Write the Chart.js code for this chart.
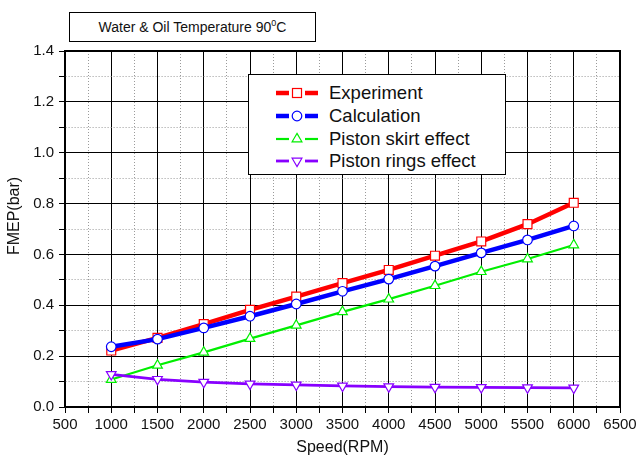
<!DOCTYPE html>
<html>
<head>
<meta charset="utf-8">
<script src="https://cdn.jsdelivr.net/npm/chart.js@4/dist/chart.umd.min.js"></script>
<style>
  html, body { margin: 0; padding: 0; background: #fff; }
  #wrap { position: relative; width: 640px; height: 455px; font-family: "Liberation Sans", Arial, sans-serif; }
  #c { position: absolute; left: 0; top: 0; }
  #titlebox { position: absolute; left: 69px; top: 12px; width: 245px; height: 28px; border: 1px solid #000; background: #fff;
    font-size: 14px; line-height: 28px; text-align: center; color: #111; }
  #titlebox sup { font-size: 9px; vertical-align: 6px; line-height: 0; }
  #ytitle { position: absolute; left: -36.5px; top: 207.5px; width: 100px; height: 16px; line-height: 16px; font-size: 16px;
    text-align: center; color: #111; transform: rotate(-90deg); white-space: nowrap; }
  #legend { position: absolute; left: 248px; top: 74px; width: 256px; height: 99px; border: 1px solid #000; background: #fff; }
  .row { position: absolute; left: 0; height: 22px; width: 256px; }
  .row svg { position: absolute; left: 26px; top: 0; }
  .row span { position: absolute; left: 80px; top: 1px; font-size: 18.5px; line-height: 20px; color: #111; white-space: nowrap; }
</style>
</head>
<body>
<div id="wrap">
  <canvas id="c" width="640" height="455"></canvas>
  <div id="titlebox">Water &amp; Oil Temperature 90<sup>0</sup>C</div>
  <div id="ytitle"></div>
  <div id="legend"></div>
</div>
<script>
// ---- data ----
const speeds = [1000, 1500, 2000, 2500, 3000, 3500, 4000, 4500, 5000, 5500, 6000];
const experiment = [0.222, 0.272, 0.326, 0.382, 0.434, 0.487, 0.539, 0.595, 0.651, 0.719, 0.803];
const calculation = [0.237, 0.267, 0.311, 0.357, 0.405, 0.455, 0.503, 0.554, 0.606, 0.657, 0.712];
const skirtEffect = [0.108, 0.164, 0.215, 0.269, 0.321, 0.374, 0.424, 0.477, 0.532, 0.582, 0.637];
const ringsEffect = [0.128, 0.109, 0.098, 0.091, 0.087, 0.083, 0.080, 0.078, 0.077, 0.076, 0.075];
const seriesNames = ["Experiment", "Calculation", "Piston skirt effect", "Piston rings effect"];
const xTitle = "Speed(RPM)";
const yTitle = "FMEP(bar)";

const colors = ["#ff0000", "#0000ff", "#00ee00", "#8800ff"];
const lineWidths = [4.5, 4.5, 2.2, 2.8];
const pointStyles = ["rect", "circle", "triangle", "triangle"];
const pointRadii = [6.3, 4.8, 5.6, 5.6];
const rotations = [0, 0, 0, 180];
const seriesValues = [experiment, calculation, skirtEffect, ringsEffect];

const toXY = vals => speeds.map((s, i) => ({ x: s, y: vals[i] }));

const datasets = seriesValues.map((vals, k) => ({
  label: seriesNames[k],
  data: toXY(vals),
  borderColor: colors[k],
  borderWidth: lineWidths[k],
  pointStyle: pointStyles[k],
  pointRadius: pointRadii[k],
  pointRotation: rotations[k],
  pointBorderColor: colors[k],
  pointBackgroundColor: "#ffffff",
  pointBorderWidth: 1.2,
  tension: 0,
  fill: false,
  order: 4 - k
}));

const isMult = (v, step) => Math.abs(v / step - Math.round(v / step)) < 1e-6;

const font = { family: "'Liberation Sans', Arial, sans-serif", size: 15 };

document.getElementById("ytitle").textContent = yTitle;

new Chart(document.getElementById("c"), {
  type: "line",
  data: { datasets },
  options: {
    responsive: false,
    animation: false,
    devicePixelRatio: 1,
    layout: { padding: 0 },
    plugins: { legend: { display: false }, title: { display: false }, tooltip: { enabled: false } },
    scales: {
      x: {
        type: "linear", position: "bottom", min: 500, max: 6500,
        afterFit: s => { s.height = 48; },
        ticks: {
          stepSize: 250, autoSkip: false, maxRotation: 0, padding: 3, color: "#111", font,
          callback: v => isMult(v, 500) ? String(v) : ""
        },
        grid: {
          color: c => (c.tick && isMult(c.tick.value, 500)) ? "#000" : "#9a9a9a",
          lineWidth: 1, tickLength: 6, tickColor: "#000"
        },
        border: { color: "#000", width: 1.6, dash: c => (c.tick && !isMult(c.tick.value, 500)) ? [1, 2] : [] },
        title: { display: true, text: xTitle, color: "#111", font: { family: font.family, size: 16 }, padding: { top: 0, bottom: -2 } }
      },
      y: {
        type: "linear", position: "left", min: 0, max: 1.4,
        afterFit: s => { s.width = 65; },
        ticks: {
          stepSize: 0.1, autoSkip: false, padding: 5, color: "#111", font,
          callback: v => isMult(v, 0.2) ? Number(v).toFixed(1) : ""
        },
        grid: {
          color: c => (c.tick && isMult(c.tick.value, 0.2)) ? "#000" : "#9a9a9a",
          lineWidth: 1, tickLength: 6, tickColor: "#000"
        },
        border: { color: "#000", width: 1.6, dash: c => (c.tick && !isMult(c.tick.value, 0.2)) ? [1, 2] : [] }
      },
      x2: {
        type: "linear", position: "top", min: 500, max: 6500,
        afterFit: s => { s.height = 51; },
        ticks: { display: false, stepSize: 500 },
        grid: { drawOnChartArea: false, drawTicks: false },
        border: { color: "#000", width: 2 }
      },
      y2: {
        type: "linear", position: "right", min: 0, max: 1.4,
        afterFit: s => { s.width = 20; },
        ticks: { display: false, stepSize: 0.2 },
        grid: { drawOnChartArea: false, drawTicks: false },
        border: { color: "#000", width: 2 }
      }
    }
  }
});

// ---- HTML legend (real text) ----
const legend = document.getElementById("legend");
const rowTops = [7, 29.5, 52.5, 74.5];
seriesNames.forEach((name, k) => {
  const row = document.createElement("div");
  row.className = "row";
  row.style.top = rowTops[k] + "px";
  const lw = lineWidths[k];
  let marker = "";
  const cx = 22, cy = 11, col = colors[k];
  if (k === 0) marker = `<rect x="${cx-4.5}" y="${cy-4.5}" width="9" height="9" fill="#fff" stroke="${col}" stroke-width="1.2"/>`;
  if (k === 1) marker = `<circle cx="${cx}" cy="${cy}" r="4.8" fill="#fff" stroke="${col}" stroke-width="1.2"/>`;
  if (k === 2) marker = `<polygon points="${cx},${cy-5.6} ${cx+4.9},${cy+2.8} ${cx-4.9},${cy+2.8}" fill="#fff" stroke="${col}" stroke-width="1.2"/>`;
  if (k === 3) marker = `<polygon points="${cx},${cy+5.6} ${cx+4.9},${cy-2.8} ${cx-4.9},${cy-2.8}" fill="#fff" stroke="${col}" stroke-width="1.2"/>`;
  row.innerHTML = `<svg width="46" height="22"><line x1="1" y1="${cy}" x2="14" y2="${cy}" stroke="${col}" stroke-width="${lw}"/><line x1="30" y1="${cy}" x2="43" y2="${cy}" stroke="${col}" stroke-width="${lw}"/>${marker}</svg><span>${name}</span>`;
  legend.appendChild(row);
});
</script>
</body>
</html>
